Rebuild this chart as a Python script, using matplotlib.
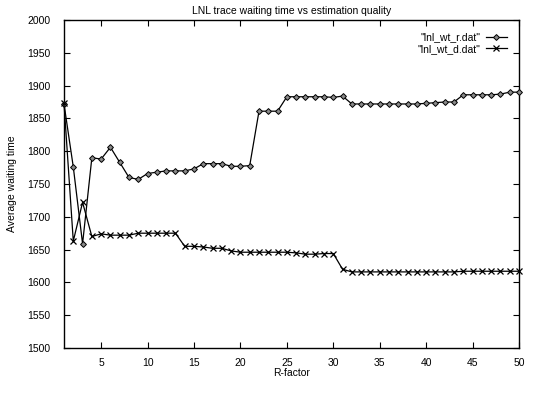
import matplotlib
matplotlib.use("Agg")
import matplotlib.pyplot as plt
import numpy as np

plt.rcParams['font.family'] = ['Liberation Sans', 'DejaVu Sans']

r_factor = list(range(1, 51))

wt_r = [1872, 1776, 1659, 1790, 1788, 1806, 1783, 1760, 1757, 1766,
        1768, 1770, 1770, 1770, 1773, 1781, 1781, 1781, 1777, 1777,
        1778, 1861, 1861, 1861, 1883, 1883, 1883, 1883, 1883, 1882,
        1884, 1872, 1872, 1872, 1872, 1872, 1872, 1872, 1872, 1873,
        1874, 1875, 1875, 1886, 1886, 1886, 1886, 1887, 1890, 1890]

wt_d = [1873, 1663, 1722, 1670, 1674, 1672, 1672, 1672, 1675, 1675,
        1675, 1675, 1675, 1655, 1655, 1654, 1652, 1652, 1648, 1646,
        1646, 1646, 1646, 1646, 1646, 1645, 1643, 1643, 1644, 1644,
        1620, 1616, 1616, 1616, 1616, 1616, 1616, 1616, 1616, 1616,
        1616, 1616, 1616, 1617, 1617, 1617, 1617, 1617, 1617, 1617]

label_r = '"lnl_wt_r.dat"'
label_d = '"lnl_wt_d.dat"'
title = "LNL trace waiting time vs estimation quality"
xlabel = "R-factor"
ylabel = "Average waiting time"

fig = plt.figure(figsize=(5.5, 4.05), dpi=100)
ax = fig.add_axes([64/550, 1 - 348/405, (519-64)/550, (348-20)/405])

ax.plot(r_factor, wt_r, color='black', lw=0.9, marker='D', markersize=3.0,
        markerfacecolor='#8a8a8a', markeredgecolor='black', markeredgewidth=0.7,
        label=label_r, clip_on=False, zorder=3)
ax.plot(r_factor, wt_d, color='black', lw=0.9, marker='x', markersize=4.2,
        markeredgewidth=0.9, label=label_d, clip_on=False, zorder=3)

ax.set_xlim(1, 50)
ax.set_ylim(1500, 2000)
ax.set_xticks(np.arange(5, 51, 5))
ax.set_yticks(np.arange(1500, 2001, 50))
ax.tick_params(direction='in', top=True, right=True, length=4, width=0.8,
               labelsize=7.5)
ax.tick_params(axis='x', pad=7)
ax.tick_params(axis='y', pad=10)
for s in ax.spines.values():
    s.set_linewidth(1.0)

ax.set_title(title, fontsize=7.5, pad=4)
ax.set_xlabel(xlabel, fontsize=7.5, labelpad=0)
ax.set_ylabel(ylabel, fontsize=7.5)
ax.yaxis.set_label_coords(-(64 - 17) / 455, 0.5)

leg = ax.legend(loc='upper right', frameon=False, markerfirst=False,
                fontsize=7.5, handlelength=2.0, handletextpad=0.5,
                labelspacing=0.15, borderaxespad=0.8)

fig.savefig("out.png", dpi=100)
